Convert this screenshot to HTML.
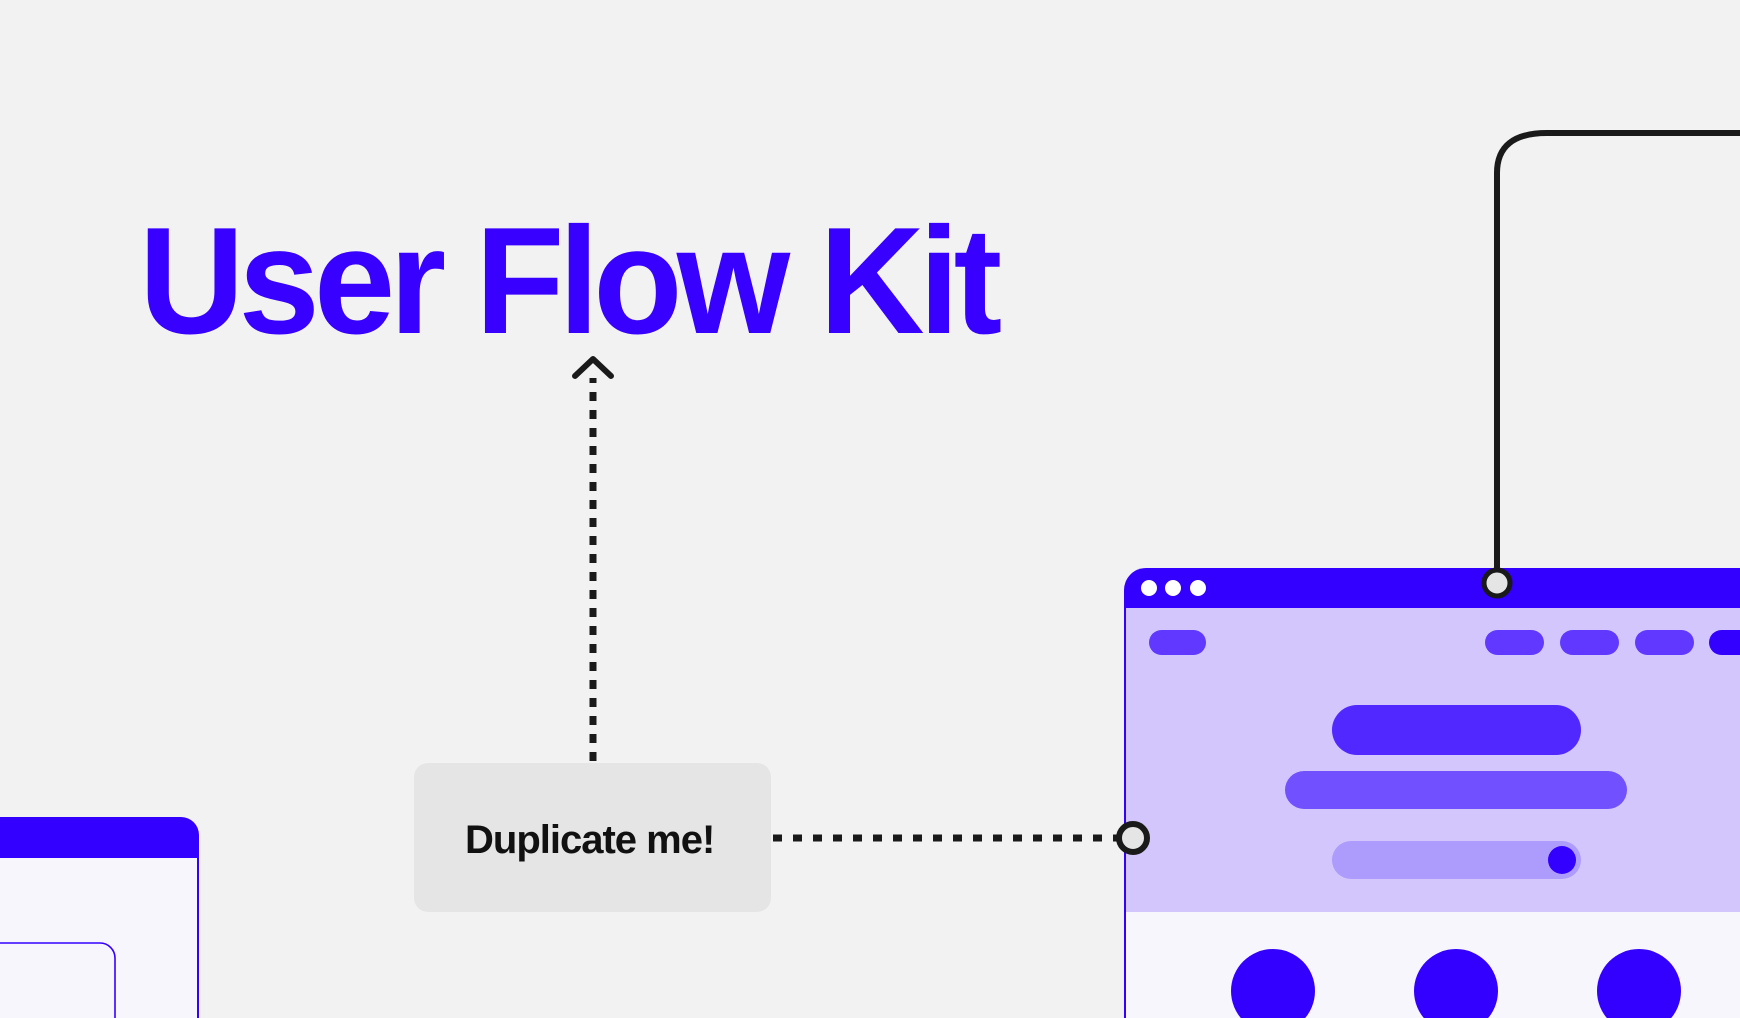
<!DOCTYPE html>
<html><head><meta charset="utf-8"><style>
html,body{margin:0;padding:0;background:#f2f2f2;}
body{width:1740px;height:1018px;overflow:hidden;position:relative;font-family:"Liberation Sans",Arial,sans-serif;}
svg{position:absolute;left:0;top:0;}
</style></head><body>
<svg width="1740" height="1018" viewBox="0 0 1740 1018" xmlns="http://www.w3.org/2000/svg">
<rect width="1740" height="1018" fill="#f2f2f2"/>
<!-- Title -->
<g transform="translate(139,333) scale(0.96,1)">
<text x="0" y="0" font-family="Liberation Sans, Arial, sans-serif" font-weight="bold" font-size="152" letter-spacing="-6" fill="#3700ff">User Flow Kit</text>
</g>

<!-- vertical dotted arrow -->
<line x1="593" y1="761" x2="593" y2="378" stroke="#1a1a1a" stroke-width="7" stroke-dasharray="9 9"/>
<polyline points="575,376 593,359 611,376" fill="none" stroke="#1a1a1a" stroke-width="6" stroke-linecap="round" stroke-linejoin="round"/>

<!-- Duplicate box -->
<rect x="414" y="763" width="357" height="149" rx="14" fill="#e5e5e5"/>
<text x="465" y="853" font-family="Liberation Sans, Arial, sans-serif" font-weight="bold" font-size="40" letter-spacing="-1" fill="#111">Duplicate me!</text>

<!-- horizontal dotted line -->
<line x1="773" y1="838" x2="1120" y2="838" stroke="#1a1a1a" stroke-width="7" stroke-dasharray="9 11"/>

<!-- left browser -->
<path d="M0,817 H181 A18,18 0 0 1 199,835 V1018 H0 Z" fill="#f7f6fc"/>
<path d="M0,817 H181 A18,18 0 0 1 199,835 V858 H0 Z" fill="#3300ff"/>
<line x1="198" y1="858" x2="198" y2="1018" stroke="#3300ff" stroke-width="2"/>
<path d="M0,943 H100 A15,15 0 0 1 115,958 V1018" fill="none" stroke="#3300ff" stroke-width="1.6"/>

<!-- right browser -->
<path d="M1124,1018 V590 A22,22 0 0 1 1146,568 H1740 V1018 Z" fill="#f7f6fc"/>
<rect x="1124" y="606" width="616" height="306" fill="#d2c6fd"/>
<path d="M1124,608 V590 A22,22 0 0 1 1146,568 H1740 V608 Z" fill="#3300ff"/>
<line x1="1125" y1="600" x2="1125" y2="1018" stroke="#3300ff" stroke-width="2"/>
<circle cx="1149" cy="588" r="8" fill="#fff"/>
<circle cx="1173" cy="588" r="8" fill="#fff"/>
<circle cx="1198" cy="588" r="8" fill="#fff"/>
<rect x="1149" y="630" width="57" height="25" rx="12.5" fill="#6038ff"/>
<rect x="1485" y="630" width="59" height="25" rx="12.5" fill="#6038ff"/>
<rect x="1560" y="630" width="59" height="25" rx="12.5" fill="#6038ff"/>
<rect x="1635" y="630" width="59" height="25" rx="12.5" fill="#6038ff"/>
<rect x="1709" y="630" width="59" height="25" rx="12.5" fill="#3300ff"/>
<rect x="1332" y="705" width="249" height="50" rx="25" fill="#5128ff"/>
<rect x="1285" y="771" width="342" height="38" rx="19" fill="#7050ff"/>
<rect x="1332" y="841" width="249" height="38" rx="19" fill="#ad9cfc"/>
<circle cx="1562" cy="860" r="14" fill="#3300ff"/>
<ellipse cx="1273" cy="991" rx="42" ry="42" fill="#3300ff"/>
<ellipse cx="1456" cy="991" rx="42" ry="42" fill="#3300ff"/>
<ellipse cx="1639" cy="991" rx="42" ry="42" fill="#3300ff"/>

<!-- connector top -->
<path d="M1497,583 V173 Q1497,133 1547,133 H1740" fill="none" stroke="#1a1a1a" stroke-width="6"/>
<circle cx="1497" cy="583" r="13" fill="#e5e5e5" stroke="#1a1a1a" stroke-width="5"/>
<circle cx="1133" cy="838" r="14" fill="#e5e5e5" stroke="#1a1a1a" stroke-width="6"/>
</svg>
</body></html>
